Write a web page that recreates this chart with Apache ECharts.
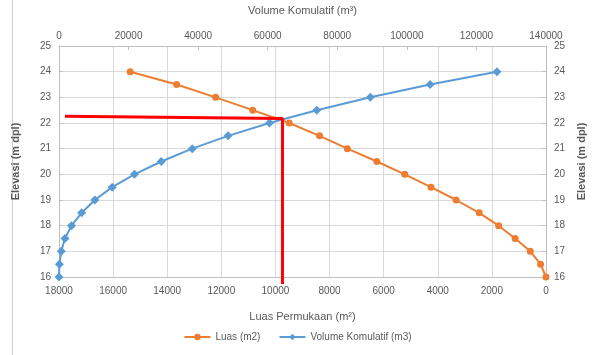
<!DOCTYPE html>
<html>
<head>
<meta charset="utf-8">
<script src="https://cdn.jsdelivr.net/npm/echarts@6/dist/echarts.min.js"></script>
<style>
  html, body { margin: 0; padding: 0; background: #fff; }
  #chart { width: 595px; height: 355px; }
</style>
</head>
<body>
<div id="chart"></div>
<script>
// Elevation levels (m dpl) shared by both curves
const elevasi = [16, 16.5, 17, 17.5, 18, 18.5, 19, 19.5, 20, 20.5, 21, 21.5, 22, 22.5, 23, 23.5, 24];
// Surface area at each elevation (m2)
const luas = [0, 200, 580, 1140, 1750, 2470, 3320, 4250, 5220, 6250, 7340, 8370, 9490, 10840, 12210, 13650, 15370];
// Cumulative volume at each elevation (m3)
const volume = [0, 100, 650, 1700, 3600, 6500, 10300, 15300, 21700, 29400, 38300, 48600, 60500, 74100, 89500, 106700, 125900];
// Reading guide: elevation 22.2 m read across to the area curve and down
const guideArea = [17780, 9740, 9740];
const guideElev = [22.26, 22.18, 15.73];

const FONT = "'Liberation Sans Narrow', 'Liberation Sans', sans-serif";
const TXT = '#595959';
const AXIS = '#bfbfbf';
const GRID = '#d9d9d9';

const pair = (xs, ys) => xs.map((x, i) => [x, ys[i]]);
const plain = v => String(v);

const chart = echarts.init(document.getElementById('chart'), null, { renderer: 'canvas' });

chart.setOption({
  animation: false,
  textStyle: { fontFamily: FONT },
  graphic: [{
    type: 'line',
    shape: { x1: 12.5, y1: 0, x2: 12.5, y2: 355 },
    style: { stroke: '#d0d0d0', lineWidth: 1 }
  }],
  grid: { left: 59, right: 46, top: 46, bottom: 78 },
  legend: {
    bottom: 8,
    left: 'center',
    itemWidth: 26,
    itemHeight: 8,
    itemGap: 18,
    textStyle: { fontFamily: FONT, fontSize: 10, color: TXT },
    data: ['Luas (m2)', 'Volume Komulatif (m3)']
  },
  xAxis: [{
    type: 'value',
    position: 'bottom',
    inverse: true,
    min: 0, max: 18000, interval: 2000,
    name: 'Luas Permukaan (m²)',
    nameLocation: 'middle',
    nameGap: 34,
    nameTextStyle: { fontFamily: FONT, fontSize: 11, color: TXT },
    axisLine: { show: true, lineStyle: { color: AXIS } },
    axisTick: { show: false },
    axisLabel: { fontFamily: FONT, fontSize: 10, color: TXT, margin: 9, formatter: plain },
    splitLine: { show: true, lineStyle: { color: GRID, width: 1 } }
  }, {
    type: 'value',
    position: 'top',
    min: 0, max: 140000, interval: 20000,
    name: 'Volume Komulatif (m³)',
    nameLocation: 'middle',
    nameGap: 30,
    nameTextStyle: { fontFamily: FONT, fontSize: 11, color: TXT },
    axisLine: { show: true, lineStyle: { color: AXIS } },
    axisTick: { show: true, inside: true, length: 4, lineStyle: { color: AXIS } },
    axisLabel: { fontFamily: FONT, fontSize: 10, color: TXT, margin: 5, formatter: plain },
    splitLine: { show: false }
  }],
  yAxis: [{
    type: 'value',
    position: 'left',
    min: 16, max: 25, interval: 1,
    name: 'Elevasi (m dpl)',
    nameLocation: 'middle',
    nameRotate: 90,
    nameGap: 38,
    nameTextStyle: { fontFamily: FONT, fontSize: 11, color: TXT, fontWeight: 'bold' },
    axisLine: { show: true, lineStyle: { color: AXIS } },
    axisTick: { show: true, length: 4, lineStyle: { color: AXIS } },
    axisLabel: { fontFamily: FONT, fontSize: 10, color: TXT, margin: 8 },
    splitLine: { show: true, lineStyle: { color: GRID, width: 1 } }
  }, {
    type: 'value',
    position: 'right',
    min: 16, max: 25, interval: 1,
    name: 'Elevasi (m dpl)',
    nameLocation: 'middle',
    nameRotate: 90,
    nameGap: 29,
    nameTextStyle: { fontFamily: FONT, fontSize: 11, color: TXT, fontWeight: 'bold' },
    axisLine: { show: true, lineStyle: { color: AXIS } },
    axisTick: { show: true, length: 4, lineStyle: { color: AXIS } },
    axisLabel: { fontFamily: FONT, fontSize: 10, color: TXT, margin: 8 },
    splitLine: { show: false }
  }],
  series: [{
    name: 'Luas (m2)',
    type: 'line',
    xAxisIndex: 0, yAxisIndex: 0,
    data: pair(luas, elevasi),
    symbol: 'circle',
    symbolSize: 7,
    color: '#ED7D31',
    lineStyle: { width: 2, color: '#ED7D31' },
    itemStyle: { color: '#ED7D31' }
  }, {
    name: 'Volume Komulatif (m3)',
    type: 'line',
    xAxisIndex: 1, yAxisIndex: 0,
    data: pair(volume, elevasi),
    symbol: 'diamond',
    symbolSize: 9,
    color: '#5B9BD5',
    lineStyle: { width: 2, color: '#5B9BD5' },
    itemStyle: { color: '#5B9BD5' }
  }, {
    name: 'guide',
    type: 'line',
    xAxisIndex: 0, yAxisIndex: 0,
    data: pair(guideArea, guideElev),
    symbol: 'none',
    clip: false,
    silent: true,
    z: 5,
    lineStyle: { width: 3, color: '#ff0000' }
  }]
});
</script>
</body>
</html>
